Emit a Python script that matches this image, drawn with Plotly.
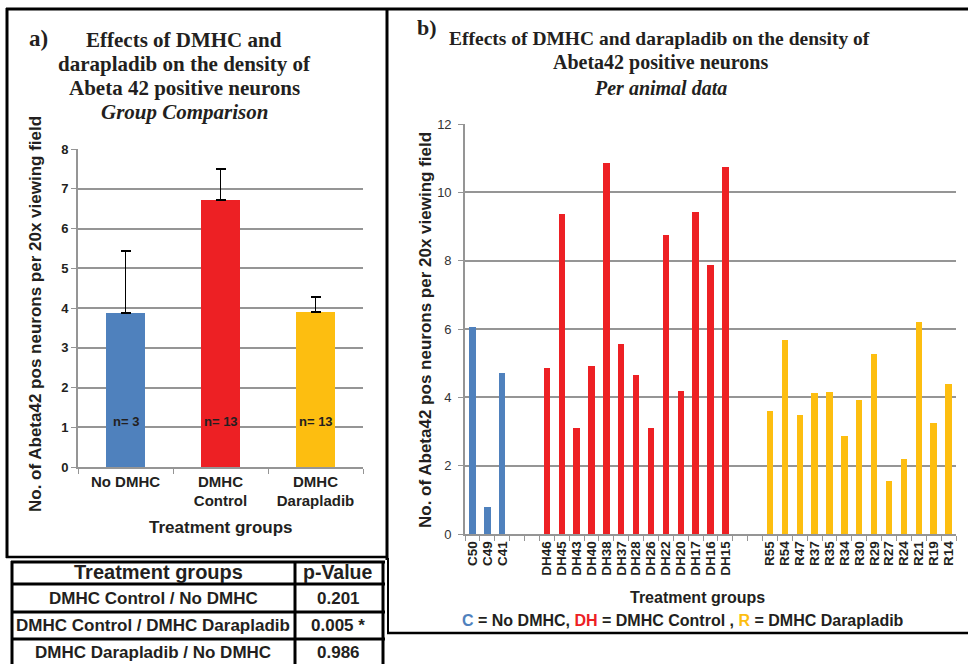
import plotly.graph_objects as go

W, H = 968, 664

# ---------------- data ----------------
group_names = ["No DMHC", "DMHC<br>Control", "DMHC<br>Darapladib"]
group_means = [3.87, 6.72, 3.90]
group_err_up = [1.56, 0.78, 0.37]
group_n = ["n= 3", "n= 13", "n= 13"]

c_labels = ["C50", "C49", "C41"]
c_values = [6.05, 0.80, 4.72]
dh_labels = ["DH46", "DH45", "DH43", "DH40", "DH38", "DH37", "DH28", "DH26",
             "DH22", "DH20", "DH17", "DH16", "DH15"]
dh_values = [4.86, 9.37, 3.10, 4.92, 10.85, 5.56, 4.65, 3.10, 8.76, 4.18,
             9.43, 7.88, 10.75]
r_labels = ["R55", "R54", "R47", "R37", "R35", "R34", "R30", "R29", "R27",
            "R24", "R21", "R19", "R14"]
r_values = [3.60, 5.68, 3.49, 4.12, 4.15, 2.86, 3.92, 5.27, 1.54, 2.19,
            6.21, 3.24, 4.39]

table_header = ["Treatment groups", "p-Value"]
table_groups = ["DMHC Control / No DMHC", "DMHC Control / DMHC Darapladib",
                "DMHC Darapladib / No DMHC"]
table_pvalues = ["0.201", "0.005 *", "0.986"]

BLUE, RED, YEL = "#4F81BD", "#ED2024", "#FDBE10"
TXT = "#231F20"
GRID = "#959595"
SANS = "Liberation Sans, Arial, sans-serif"
SERIF = "Liberation Serif, Times New Roman, serif"


def X(px):
    return px / W


def Y(py):
    return 1 - py / H


fig = go.Figure()

# ---------------- panel a ----------------
fig.add_trace(go.Bar(
    x=group_names, y=group_means, width=0.41,
    marker=dict(color=[BLUE, RED, YEL], line=dict(width=0)),
    error_y=dict(type="data", array=group_err_up, arrayminus=[0] * 3,
                 symmetric=False, color="black", thickness=1.6, width=5),
    xaxis="x", yaxis="y", showlegend=False, hoverinfo="skip"))

# ---------------- panel b ----------------
b_x = c_labels + [" ", "  "] + dh_labels + ["   ", "    "] + r_labels
b_y = c_values + [None, None] + dh_values + [None, None] + r_values
b_col = [BLUE] * len(c_values) + [BLUE, BLUE] + [RED] * len(dh_values) + \
    [RED, RED] + [YEL] * len(r_values)
fig.add_trace(go.Bar(
    x=b_x, y=b_y, width=0.43,
    marker=dict(color=b_col, line=dict(width=0)),
    xaxis="x2", yaxis="y2", showlegend=False, hoverinfo="skip"))

axis_common = dict(showline=True, linecolor=GRID, linewidth=1.6,
                   ticks="outside", tickcolor=GRID, ticklen=5, tickwidth=1.2)

fig.update_layout(
    width=W, height=H,
    margin=dict(l=0, r=0, t=0, b=0, pad=0, autoexpand=False),
    paper_bgcolor="white", plot_bgcolor="white",
    barmode="overlay", bargap=0,
    font=dict(family=SANS, color=TXT),
    xaxis=dict(domain=[X(78), X(363)], anchor="y", type="category",
               tickson="boundaries", showgrid=False, automargin=False,
               tickfont=dict(size=15, weight="bold", color=TXT),
               **axis_common),
    yaxis=dict(domain=[Y(467), Y(149)], anchor="x", range=[0, 8],
               dtick=1, showgrid=True, gridcolor=GRID, gridwidth=1.7,
               zeroline=False, automargin=False,
               tickfont=dict(size=13, weight="bold", color=TXT),
               **axis_common),
    xaxis2=dict(domain=[X(465), X(956)], anchor="y2", type="category",
                categoryorder="array", categoryarray=b_x,
                tickmode="linear", tick0=0, dtick=1, automargin=False,
                tickson="boundaries", showgrid=False, tickangle=-90,
                tickfont=dict(size=13.5, weight="bold", color=TXT),
                **axis_common),
    yaxis2=dict(domain=[Y(534), Y(124)], anchor="x2", range=[0, 12],
                dtick=2, showgrid=True, gridcolor=GRID, gridwidth=1.7,
                zeroline=False, automargin=False, ticklabelstandoff=4,
                tickfont=dict(size=13, color="#333"),
                **axis_common),
)

ann = []


def text(x, y, t, size, family=SANS, bold=True, color=TXT, angle=0,
         xanchor="center", italic=False):
    ann.append(dict(x=X(x), y=Y(y), xref="paper", yref="paper", text=t,
                    showarrow=False, xanchor=xanchor, yanchor="middle",
                    textangle=angle,
                    font=dict(family=family, size=size, color=color,
                              weight="bold" if bold else "normal",
                              style="italic" if italic else "normal")))


# n labels inside bars
for g, n in zip(group_names, group_n):
    ann.append(dict(x=g, y=1.15, xref="x", yref="y", text=n, showarrow=False,
                    font=dict(family=SANS, size=13, color=TXT, weight="bold")))

# panel a titles
text(38, 38, "a)", 23, family=SERIF)
text(184, 40, "Effects of DMHC and", 21, family=SERIF)
text(184, 64, "darapladib on the density of", 21, family=SERIF)
text(184, 88, "Abeta 42 positive neurons", 21, family=SERIF)
text(184, 112, "Group Comparison", 21, family=SERIF, italic=True)
text(35, 314, "No. of Abeta42 pos neurons per 20x viewing field", 17, angle=-90)
text(221, 527, "Treatment groups", 17)

# panel b titles
text(427, 28, "b)", 22, family=SERIF)
text(659, 39, "Effects of DMHC and darapladib on the density of", 19.5, family=SERIF)
text(660, 63, "Abeta42 positive neurons", 20, family=SERIF)
text(660, 88, "Per animal data", 20, family=SERIF, italic=True)
text(425, 330, "No. of Abeta42 pos neurons per 20x viewing field", 17, angle=-90)
text(697, 597, "Treatment groups", 16)
legend_line = (f"<span style='color:{BLUE}'>C</span> = No DMHC, "
               f"<span style='color:{RED}'>DH</span> = DMHC Control , "
               f"<span style='color:{YEL}'>R</span> = DMHC Darapladib")
text(683, 620, legend_line, 16)

# table text
text(158, 572, table_header[0], 20)
text(338, 572, table_header[1], 19.5)
row_y = [598, 625, 652]
for ry, g, p in zip(row_y, table_groups, table_pvalues):
    text(153, ry, g, 17)
    text(338, ry, p, 17)

fig.update_layout(annotations=ann)

# ---------------- frames ----------------
shapes = []


def line(x0, y0, x1, y1, w=3):
    shapes.append(dict(type="line", xref="paper", yref="paper",
                       x0=X(x0), y0=Y(y0), x1=X(x1), y1=Y(y1),
                       line=dict(color="black", width=w)))


line(6, 9, 968, 9, 3)        # top
line(7, 8, 7, 558, 3)        # panel a left
line(6, 557, 388, 557, 2.5)  # panel a bottom
line(387, 8, 387, 560, 3)    # divider
line(388, 558, 388, 633, 2)  # panel b left lower
line(387, 633, 968, 633, 2.5)  # panel b bottom
# table
line(11, 562, 385, 562, 3)
line(12, 561, 12, 664, 3)
line(383, 561, 383, 664, 3)
line(295, 561, 295, 664, 3)
for yy in [584, 612, 639]:
    line(11, yy, 385, yy, 3)

fig.update_layout(shapes=shapes)

fig.write_html(
    "out.html",
    config={"displayModeBar": False},
    post_script="document.body.style.margin='0';"
                "document.body.style.padding='0';"
                "document.documentElement.style.overflow='hidden';"
                "document.body.style.overflow='hidden';")
